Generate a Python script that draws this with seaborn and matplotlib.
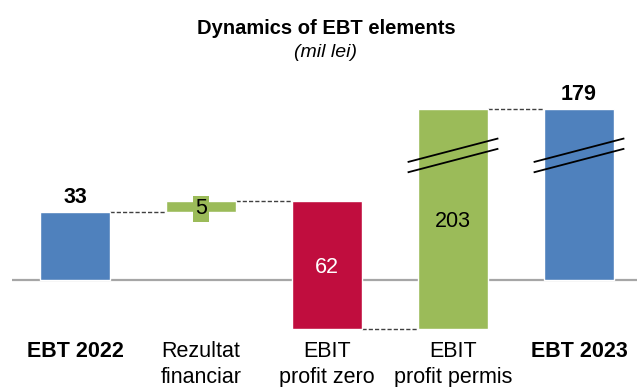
import matplotlib
matplotlib.use("Agg")
import matplotlib.pyplot as plt
import seaborn as sns

# ---- data ----
categories = ["EBT 2022", "Rezultat\nfinanciar", "EBIT\nprofit zero", "EBIT\nprofit permis", "EBT 2023"]
values = [33, 5, -62, 203, 179]
kinds = ["total", "delta", "delta", "delta", "total"]
value_labels = ["33", "5", "62", "203", "179"]
colors = ["#4F81BD", "#9BBB59", "#C00D3E", "#9BBB59", "#4F81BD"]
bold_labels = [True, False, False, False, True]
label_colors = ["black", "black", "white", "black", "black"]
broken = [False, False, False, True, True]
axis_cut = 96      # amount hidden by the axis break
break_level = 60   # display level of break marks
title = "Dynamics of EBT elements"
subtitle = "(mil lei)"

sns.set_theme(style="white")
plt.rcParams["font.family"] = ["Liberation Sans", "DejaVu Sans"]
plt.rcParams["text.color"] = "black"
plt.rcParams["xtick.color"] = "black"

W, H = 637, 387
fig = plt.figure(figsize=(W / 100, H / 100), dpi=100)
ax_bottom_px, ax_top_px = 336, 100
ax = fig.add_axes([12 / W, 1 - ax_bottom_px / H, 1 - 12 / W, (ax_bottom_px - ax_top_px) / H])

# waterfall geometry
lows, highs = [], []
cum = 0
for v, k in zip(values, kinds):
    if k == "total":
        lo, hi = min(0, v), max(0, v)
        cum = v
    else:
        lo, hi = min(cum, cum + v), max(cum, cum + v)
        cum = cum + v
    lows.append(lo)
    highs.append(hi)
disp_high = [h - axis_cut if b else h for h, b in zip(highs, broken)]

ax.axhline(0, color="#A6A6A6", lw=1.6, zorder=0)

bw = 0.556
for i, cat in enumerate(categories):
    sns.barplot(x=[cat], y=[disp_high[i] - lows[i]], bottom=lows[i], order=categories,
                color=colors[i], saturation=1, width=bw, errorbar=None, ax=ax, zorder=2)

# connectors
levels = []
cum = 0
for i, (v, k) in enumerate(zip(values, kinds)):
    cum = v if k == "total" else cum + v
    levels.append(cum - axis_cut if (broken[i] and cum > break_level) else cum)
for i in range(len(categories) - 1):
    lvl = levels[i]
    ax.plot([i + bw / 2, i + 1 - bw / 2], [lvl, lvl], ls=(0, (3, 1.5)), color="#404040",
            lw=1, zorder=1)

# break marks
for i, b in enumerate(broken):
    if b:
        for off in (0, -5):
            ax.plot([i - 0.36, i + 0.36], [break_level - 3 + off, break_level + 8.5 + off],
                    color="black", lw=1.3, zorder=4, solid_capstyle="butt")

# value labels
for i, lab in enumerate(value_labels):
    top = disp_high[i]
    if kinds[i] == "total":
        ax.annotate(lab, (i, top), xytext=(0, 5.8), textcoords="offset points",
                    ha="center", va="baseline", fontsize=15.5, fontweight="bold",
                    color=label_colors[i])
    else:
        mid = (lows[i] + top) / 2
        kw = {}
        if i == 1:
            kw["bbox"] = dict(boxstyle="square,pad=0.1", fc=colors[i], ec="none")
        ax.text(i, mid, lab, ha="center", va="center_baseline", fontsize=15.5,
                color=label_colors[i], zorder=5, **kw)

ax.set_xlim(-0.5, (637 - 75) / 126)
ax.set_ylim(-(ax_bottom_px - 279.5) / 2.06, (279.5 - ax_top_px) / 2.06)
ax.set_xticks(range(len(categories)))
ax.set_xticklabels(categories, fontsize=15.5, linespacing=1.3)
for t, b in zip(ax.get_xticklabels(), bold_labels):
    if b:
        t.set_fontweight("bold")
ax.tick_params(axis="x", length=0, pad=3.8)
ax.set_yticks([])
ax.set_xlabel("")
ax.set_ylabel("")
for s in ax.spines.values():
    s.set_visible(False)

fig.text(326 / W, 1 - 33.5 / H, title, ha="center", va="baseline", fontsize=14.5, fontweight="bold")
fig.text(326 / W, 1 - 57 / H, subtitle, ha="center", va="baseline", fontsize=14, fontstyle="italic")

fig.savefig("out.png", dpi=100)
